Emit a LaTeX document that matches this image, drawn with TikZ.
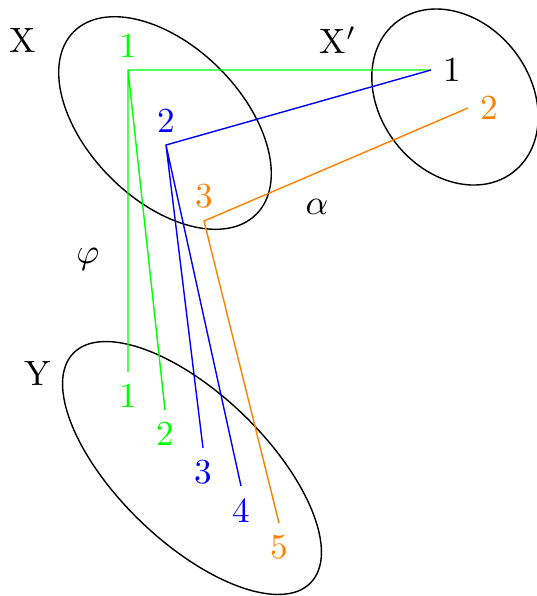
\documentclass[tikz,border=0pt]{standalone}
\usepackage{amsfonts,amssymb,amsmath}
\usepackage{xcolor}
\usepackage{tikz}
\usetikzlibrary{arrows.meta}

\begin{document}
\begin{tikzpicture}[x=0.01cm,y=-0.01cm]
\useasboundingbox (0,0) rectangle (537,596);
% the three sets
\draw[rotate around={-45:(165,123)}] (165,123) ellipse [x radius=1.29cm, y radius=0.77cm];
\draw[rotate around={-52:(455,97)}] (455,97) ellipse [x radius=0.95cm, y radius=0.75cm];
\draw[rotate around={-44:(192,468)}] (192,468) ellipse [x radius=1.65cm, y radius=0.74cm];
\node (X) at (23,40) {X};
\node (Xp) at (338,40) {X$'$};
\node (Y) at (38,373) {Y};
\node (phi) at (88,259) {$\varphi$};
\node (alpha) at (317,207) {$\alpha$};
% elements
\coordinate (x1) at (128,70);
\coordinate (x2) at (166,145);
\coordinate (x3) at (204,221);
\coordinate (xp1) at (431,70);
\coordinate (xp2) at (468,108);
\coordinate (y1) at (128,372);
\coordinate (y2) at (165,410);
\coordinate (y3) at (203,448);
\coordinate (y4) at (241,486);
\coordinate (y5) at (279,523);
\node[above,green] (lx1) at (x1) {1};
\node[above,blue] (lx2) at (x2) {2};
\node[above,orange] (lx3) at (x3) {3};
\node[right] (lxp1) at (xp1) {1};
\node[right,orange] (lxp2) at (xp2) {2};
\node[below,green] (ly1) at (y1) {1};
\node[below,green] (ly2) at (y2) {2};
\node[below,blue] (ly3) at (y3) {3};
\node[below,blue] (ly4) at (y4) {4};
\node[below,orange] (ly5) at (y5) {5};
% maps
\draw[green] (xp1)--(x1)--(y1) (x1)--(y2);
\draw[blue] (xp1)--(x2)--(y3) (x2)--(y4);
\draw[orange] (xp2)--(x3)--(y5);
\end{tikzpicture}
\end{document}
